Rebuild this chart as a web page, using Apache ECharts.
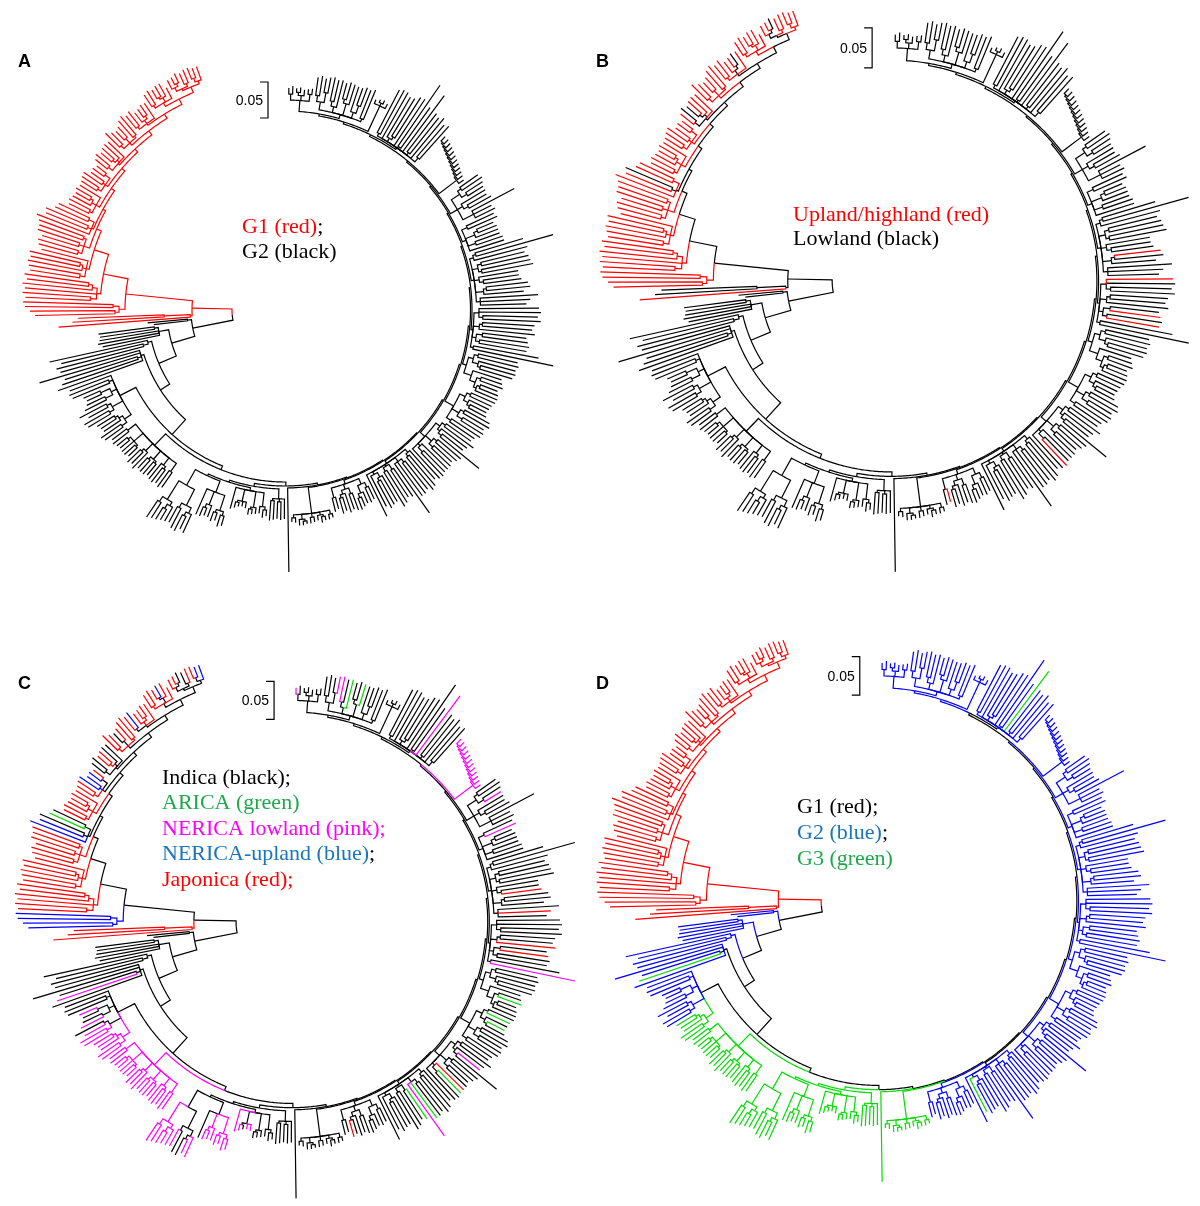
<!DOCTYPE html>
<html>
<head>
<meta charset="utf-8">
<script src="https://cdn.jsdelivr.net/npm/echarts@6/dist/echarts.min.js"></script>
<style>
  html, body { margin: 0; padding: 0; background: #fff; }
  #main { width: 1200px; height: 1206px; }
</style>
</head>
<body>
<div id="main"></div>
<script>
// branch lengths are in "px at panel A scale" (0.05 subst. = 36 units)
// a number is a leaf, an array is [stem, child, child, ...]

// big lowland ring, clockwise from the gap at 12 o'clock
var top1 = [11, [6, 6, 8], [5, [3, 4, 5], 6], [7, 5, 6]];
var top2 = [4, [8, [6, 18, 20], [10, 14, 16]], [6, [5, 24, 22], 28], [12, [4, 16, 18], 21], [6, 26, [8, 18, 20]], [3, 30, 32]];
var top3 = [28, 4, [3, 3, 4], 5];
var top4 = [2, [3, 48, 50], 53, [4, 46, [3, 44, 48]], 56, [2, 74, 50], 70, [3, 48, 46], 52, [5, 42, 44]];
var ladder = [22, [1.5, [1.5, [1.5, [1.5, [1.5, [1.5, [1.5, [1.5, [1.5, [1.5, 6, 6], 6], 6], 6], 6], 6], 6], 6], 6], 6], 6];
var r1 = [8, [10, [4, 22, 24], [6, 20, 18]], [6, 28, [5, 22, 25]], [12, 48, 20, 22]];
var r2 = [4, [6, 30, 32], [10, [4, 18, 20], 24], [8, 26, 28], 36];
var r3 = [3, [4, [3, 50, 80], 55], [6, [4, 45, 48], [3, 50, 52]], [5, 40, [4, 36, 38]], [8, [3, 42, 44], 40], [4, 58, 50, 46]];
var right1 = [2, [5, 60, 62, [4, 55, 58]], [6, [3, 52, 50], 56], [4, [6, 44, 46], [4, 50, 48]], [3, 66, 82]];
var right2 = [4, [5, [4, 40, 42], [6, 38, [3, 36, 34]]], [8, 30, [6, [4, 22, 24], [3, [3, 18, 20], 24]]]];
var fan = [10, [6, [4, 26, 24], [5, 22, [3, 18, 20]]], [8, [4, 28, 30], [6, 24, 26]], [5, 34, 30]];
var g1 = [6, [5, [4, 30, 36], [3, 32, [4, 26, 50]]], [8, [4, 30, 28], [5, 24, 26]], [3, 36, [6, 30, 32]], 40];
var g2 = [3, [4, 38, [3, 40, 42]], [5, [4, 36, 38], 42, 60], [2, [6, 34, 32], [4, 38, 40]], [3, [5, 30, [3, 28, 30]], 34], 46];
var g3 = [4, [6, [5, 14, 16], [8, 12, [4, 10, 12]]], [5, [6, 18, 16], [4, 20, [3, 14, 16]]], [10, 12, 14]];
var stubs = [26, [4, 4, 5], [3, [2, 4, 6], 5], [4, 5, 6], [5, [2, 3, 4], 6], [3, 5, 4]];
var bottomLeaf = 84;
var ringNames = ['top1', 'top2', 'top3', 'top4', 'ladder', 'r1', 'r2', 'r3', 'right1', 'right2', 'fan', 'g1', 'g2', 'g3', 'stubs', 'bottomLeaf'];
var ringSteps = [2, 2, 2, 1.5, 1.5, 1.5, 1.5, 1.5, 1.5, 1.5, 1.5, 1, 1, 1, 2];

// lower-left side, clockwise after the bottom leaf
var leftA = [10, 20, [3, 18, 17], [2, 19, 20]];
var leftB = [3, [14, [3, 6, 8], 7], [16, 6, [2, 5, 6]], [12, 6, 5, [2, 4, 6]], 22];
var leftC = [12, [16, [4, 10, 12], [3, 8, 10]], [14, 12, [4, 8, 10]], 28];
var leftD = [18, [18, [6, 20, [4, 14, 18]], [5, 22, 18]], [22, [4, 16, [5, 12, 14]], [6, 18, 20]]];
var leftE = [16, [10, 18, 20], [9, [3, 16, 18], 20], [11, [2, 14, 16], [3, 15, 14]], [10, 22, [3, 16, 18]], [12, [2, 12, 14], 16, [3, 12, 13]], [10, 20, 18]];
var leftCluster = [18, [8, [6, 22, 24], [4, 20, [3, 18, 20]]], [12, [5, 26, 28], [4, 22, 30]], [6, [8, 24, 20], [10, 16, 18]], [4, 40, 42], 44];
var longsB = [3, 90, [4, 80, 76], 105, 82];
var longsA = [4, [5, 90, 84], 100];
var group5 = [10, 58, 62, 60, [4, 55, 56]];
var group3 = [4, 34, 40];
var combSteps = [3, 2, 2];               // leftA / leftB / leftC+leftD nodes
var spineNames = ['leftE', 'leftCluster', 'longsB', 'longsA', 'group5', 'group3'];
var spineSteps = [4, 20, 11, 19, 24, 41]; // node holding ring+comb = 4
var rootRadius = 53;

// upland clade, clockwise
var red1 = [2, 132, [26, 92, 86]];
var red2 = [6, [4, 80, 85], [6, 88, 90]];
var red3 = [4, [6, 65, 68], 72, [5, 70, [4, 62, 65]]];
var red4 = [3, [5, 50, 52], [4, 55, [3, 50, 52]], 48];
var red5 = [6, [4, 40, 42], [5, 38, 44], [3, 46, 48]];
var red6 = [2, 56, [4, 44, 46], [6, 36, 34]];
var red7 = [4, [3, 22, 24], [5, 20, [3, 16, 18]], 24];
var red8 = [3, [4, 18, 20], [3, 22, 16], [6, 14, 12]];
var red9 = [2, [5, 15, 18], [3, [3, 14, 16], 20], 22];
var red10 = [3, [4, 20, 16], [6, 12, 14], [2, 22, 24]];
var red11 = [2, [3, 16, 18], [4, 12, [3, 10, 12]], 18];
var red12 = [4, [3, 14, 16], [5, [2, 10, 12], 14], 12];
var redTopA = [2, [4, 10, [3, 8, 10]], [3, 12, 14]];
var redTopB = [3, [4, 12, 10], 14];
var redNames = ['red1', 'red2', 'red3', 'red4', 'red5', 'red6', 'red7', 'red8', 'red9', 'red10', 'red11', 'red12', 'redTopA', 'redTopB'];
var redSteps = [40, 67, 25, 15, 5, 3, 4, 4, 4, 5, 5, 6, 6];

// leaf colours per panel (k black, r red, g green, m pink, b blue), one char per leaf
var allRed = redNames.map(function (n) { return [n, 'r']; });
var colorsA = allRed;
var colorsB = [['red1', 'rkk'], ['red2', 'r'], ['red3', 'r'], ['red4', 'r'], ['red5', 'r'], ['red6', 'rrkrr'],
  ['red7', 'r'], ['red8', 'r'], ['red9', 'rkkrrr'], ['red10', 'r'], ['red11', 'rrrrkr'], ['red12', 'r'],
  ['redTopA', 'rrkrr'], ['redTopB', 'r'],
  ['r3', 'kkkkkkkkkkrkkkkk'], ['right1', 'rkkkkkkkrkrkk'], ['g1', 'kkkkkkkkkkkrk'], ['g3', 'kkkkkkkkkkrk']];
var colorsC = [['top1', 'mkkkkkk'], ['top2', 'kkkmmkgkkgkkkkk'], ['top4', 'kkkkkkkkkmkkkkk'], ['ladder', 'm'],
  ['r1', 'kkkmkkkkkk'], ['r2', 'kmkkkkkk'], ['r3', 'kkkkkkkkkrkkkkrk'], ['right1', 'kkkkkkrkrkkkm'],
  ['right2', 'kkkkkkkgkkk'], ['fan', 'kgkgkkkkkkk'], ['g1', 'kkkmkkkkkrgkk'], ['g2', 'kkkkkgmgkkkkkkkk'],
  ['g3', 'kkkkkkkkkrkk'], ['leftB', 'kkkkkkmmkmm'], ['leftC', 'mmmmmmmk'], ['leftD', 'mmkkmmmmmm'], ['leftE', 'm'],
  ['leftCluster', 'mmmmmmmmkmkkmkkk'], ['longsB', 'kmkkk'],
  ['red1', 'r'], ['red2', 'b'], ['red3', 'r'], ['red4', 'r'], ['red5', 'r'], ['red6', 'bbkgk'], ['red7', 'r'],
  ['red8', 'rrbbbr'], ['red9', 'kkrrkk'], ['red10', 'rrkrrr'], ['red11', 'rbrrrr'], ['red12', 'rrrbrr'],
  ['redTopA', 'rrkkr'], ['redTopB', 'rbb']];
var colorsD = allRed.concat([['top1', 'b'], ['top2', 'b'], ['top3', 'b'], ['top4', 'bbbbbbbbbgbbbbb'], ['ladder', 'b'],
  ['r1', 'b'], ['r2', 'b'], ['r3', 'b'], ['right1', 'b'], ['right2', 'b'], ['fan', 'b'], ['g1', 'b'],
  ['g2', 'bbbbbbbbbbbbbbgb'], ['g3', 'b'], ['stubs', 'g'], ['bottomLeaf', 'g'], ['leftA', 'g'], ['leftB', 'g'],
  ['leftC', 'g'], ['leftD', 'g'], ['leftE', 'g'], ['leftCluster', 'gggggbbbbbbbbbbb'], ['longsB', 'bgbbb'],
  ['longsA', 'b'], ['group5', 'b'], ['group3', 'b']]);

var panelLetters = ['A', 'B', 'C', 'D'];
var panelCenter = [[285, 310], [891, 281], [292, 922], [878, 901]];
var panelScale = [1, 1.11, 1.055, 1.072];
var panelColors = [colorsA, colorsB, colorsC, colorsD];
var legendLines = [
  ['{r|G1 (red)}{k|;}', '{k|G2 (black)}'],
  ['{r|Upland/highland (red)}', '{k|Lowland (black)}'],
  ['{k|Indica (black);}', '{g|ARICA (green)}', '{m|NERICA lowland (pink);}', '{b|NERICA-upland (blue)}{k|;}', '{r|Japonica (red);}'],
  ['{k|G1 (red);}', '{b|G2 (blue)}{k|;}', '{g|G3 (green)}']
];
var legendPos = [[242, 234], [793, 222], [162, 785], [797, 814]];
var legendGap = [25, 24, 25.5, 26];
var letterPos = [[18, 68], [596, 68], [18, 690], [596, 690]];

var A0 = 1, A1 = 340;   // first / last leaf angle, degrees clockwise from top
var KEYS = 'krgmb';
var PAL = ['#000000', '#ff0000', '#00dd00', '#ff00ff', '#0000ff'];
var TEXTPAL = { k: '#000000', r: '#ff0000', g: '#1fa84a', m: '#ff00ff', b: '#1b75bc' };

var groupData = {
  top1: top1, top2: top2, top3: top3, top4: top4, ladder: ladder, r1: r1, r2: r2, r3: r3,
  right1: right1, right2: right2, fan: fan, g1: g1, g2: g2, g3: g3, stubs: stubs, bottomLeaf: bottomLeaf,
  leftA: leftA, leftB: leftB, leftC: leftC, leftD: leftD, leftE: leftE, leftCluster: leftCluster,
  longsB: longsB, longsA: longsA, group5: group5, group3: group3,
  red1: red1, red2: red2, red3: red3, red4: red4, red5: red5, red6: red6, red7: red7, red8: red8,
  red9: red9, red10: red10, red11: red11, red12: red12, redTopA: redTopA, redTopB: redTopB
};

function toNode(x, grp) {
  if (typeof x === 'number') return { len: x, grp: grp };
  return { len: x[0], kids: x.slice(1).map(function (c) { return toNode(c, grp); }) };
}
function G(name) { return toNode(groupData[name], name); }

// assemble the tree
var ring = { len: ringSteps[0], kids: [G(ringNames[0]), G(ringNames[1])] };
for (var i = 2; i < ringNames.length; i++) {
  ring = { len: ringSteps[i - 1], kids: [ring, G(ringNames[i])] };
}
var comb = { len: combSteps[2], kids: [G('leftC'), G('leftD')] };
comb = { len: combSteps[1], kids: [G('leftB'), comb] };
comb = { len: combSteps[0], kids: [G('leftA'), comb] };
var spine = { len: 4, kids: [ring, comb] };
spineNames.forEach(function (n, k) { spine = { len: spineSteps[k], kids: [spine, G(n)] }; });

var redNode = { len: redSteps[12], kids: [G('redTopA'), G('redTopB')] };
for (var k = 11; k >= 0; k--) {
  redNode = { len: redSteps[k], kids: [G(redNames[k]), redNode] };
}
var root = { len: rootRadius, kids: [spine, redNode] };

// layout: leaves evenly spaced in angle, node radius = distance from root
var leafList = [];
var localCount = {};
(function collect(n) {
  if (!n.kids) {
    n.li = localCount[n.grp] || 0;
    localCount[n.grp] = n.li + 1;
    leafList.push(n);
  } else n.kids.forEach(collect);
})(root);
leafList.forEach(function (n, idx) { n.a = A0 + idx * (A1 - A0) / (leafList.length - 1); });
(function place(n, r0) {
  n.r = r0 + n.len;
  if (!n.kids) return;
  n.kids.forEach(function (c) { place(c, n.r); });
  n.a = (n.kids[0].a + n.kids[n.kids.length - 1].a) / 2;
})(root, 0);

function paint(n, table) {
  if (!n.kids) {
    var s = table[n.grp];
    n.c = s ? s.charAt(Math.min(n.li, s.length - 1)) : 'k';
    return n.c;
  }
  var cs = n.kids.map(function (c) { return paint(c, table); });
  n.c = cs.every(function (c) { return c === cs[0]; }) ? cs[0] : 'k';
  return n.c;
}
function branches(pairs) {
  var table = {};
  pairs.forEach(function (p) { table[p[0]] = p[1]; });
  paint(root, table);
  var out = [];
  (function walk(n) {
    if (!n.kids) return;
    n.kids.forEach(function (c) {
      out.push([n.r, n.a, c.r, c.a, KEYS.indexOf(c.c)]);
      walk(c);
    });
  })(root);
  out.sort(function (a, b) { return (a[4] === 0 ? 0 : 1) - (b[4] === 0 ? 0 : 1); });
  return out;
}

function renderBranch(params, api) {
  var r0 = api.value(0), a0 = api.value(1), r1v = api.value(2), a1 = api.value(3);
  var n = Math.max(1, Math.ceil(Math.abs(a1 - a0) / 0.5));
  var pts = [];
  for (var j = 0; j <= n; j++) pts.push(api.coord([r0, a0 + (a1 - a0) * j / n]));
  pts.push(api.coord([r1v, a1]));
  return {
    type: 'polyline',
    silent: true,
    shape: { points: pts },
    style: { stroke: PAL[api.value(4)], lineWidth: 1.2, fill: null }
  };
}

var polar = [], angleAxis = [], radiusAxis = [], series = [], graphic = [];
var RMAX = 300;
panelLetters.forEach(function (L, p) {
  var s = panelScale[p], c = panelCenter[p];
  polar.push({ center: [c[0], c[1]], radius: RMAX * s });
  angleAxis.push({ polarIndex: p, type: 'value', min: 0, max: 360, startAngle: 90, clockwise: true, show: false,
    axisLine: { show: false }, splitLine: { show: false }, axisLabel: { show: false }, axisTick: { show: false } });
  radiusAxis.push({ polarIndex: p, type: 'value', min: 0, max: RMAX, show: false,
    axisLine: { show: false }, splitLine: { show: false }, axisLabel: { show: false }, axisTick: { show: false } });
  series.push({
    type: 'custom', coordinateSystem: 'polar', polarIndex: p,
    encode: { radius: 0, angle: 1 },
    renderItem: renderBranch, data: branches(panelColors[p]),
    animation: false, silent: true
  });

  // panel letter
  graphic.push({ type: 'text', x: letterPos[p][0], y: letterPos[p][1] - 6, silent: true,
    style: { text: L, fontFamily: 'Liberation Sans', fontSize: 18, fontWeight: 'bold', fill: '#000', verticalAlign: 'middle' } });

  // scale bar (0.05)
  var bx = c[0] - 17 * s, y0 = c[1] - 228 * s, y1 = c[1] - 192 * s;
  graphic.push({ type: 'polyline', silent: true, shape: { points: [[bx - 8, y0], [bx, y0], [bx, y1], [bx - 8, y1]] },
    style: { stroke: '#000', lineWidth: 1.2, fill: null } });
  graphic.push({ type: 'text', x: bx - 5, y: (y0 + y1) / 2 + 1, silent: true,
    style: { text: '0.05', fontFamily: 'Liberation Sans', fontSize: 14, fill: '#000', align: 'right', verticalAlign: 'middle' } });

  // legend text
  var rich = {};
  Object.keys(TEXTPAL).forEach(function (key) {
    rich[key] = { fill: TEXTPAL[key], fontFamily: 'Liberation Serif', fontSize: 22 };
  });
  legendLines[p].forEach(function (line, li) {
    graphic.push({ type: 'text', x: legendPos[p][0], y: legendPos[p][1] + li * legendGap[p] - 7, silent: true,
      style: { text: line, rich: rich, fontFamily: 'Liberation Serif', fontSize: 22, fill: '#000', verticalAlign: 'middle' } });
  });
});

var chart = echarts.init(document.getElementById('main'));
chart.setOption({
  backgroundColor: '#ffffff',
  animation: false,
  polar: polar,
  angleAxis: angleAxis,
  radiusAxis: radiusAxis,
  series: series,
  graphic: graphic
});
</script>
</body>
</html>
